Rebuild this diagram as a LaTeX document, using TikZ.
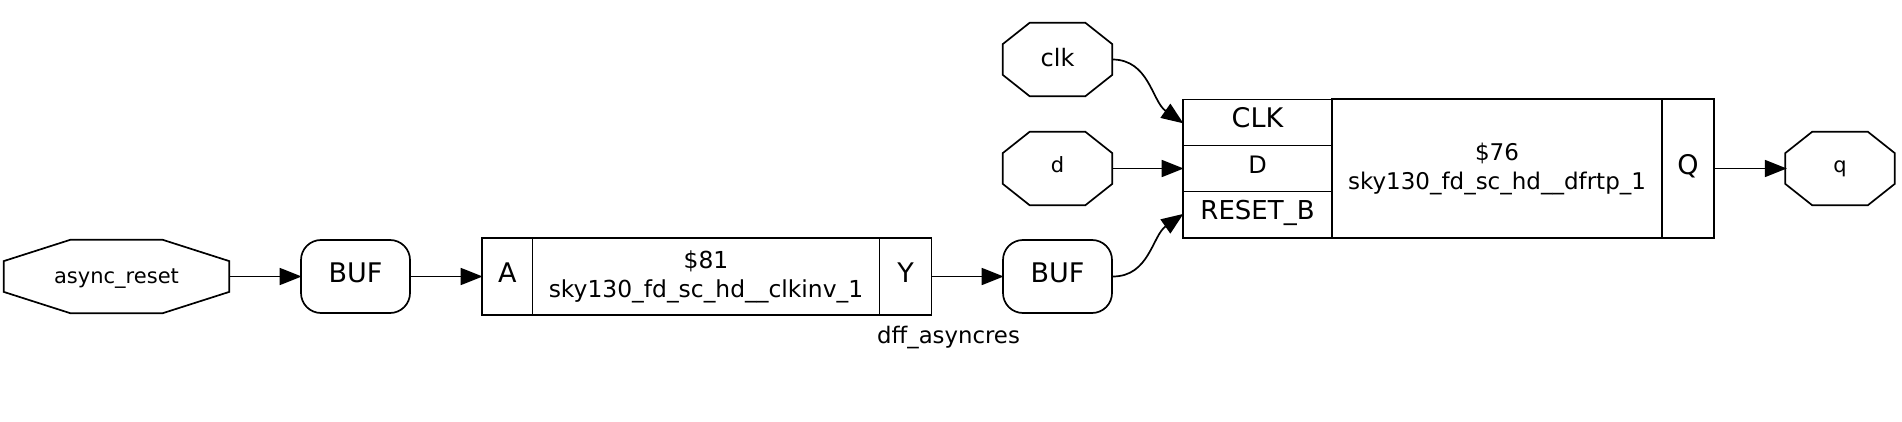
\documentclass[tikz,border=0pt]{standalone}
\usepackage{fontspec}
\setmainfont{DejaVu Sans}
\usetikzlibrary{arrows.meta,calc}
\tikzset{
    wire/.style={->, line width=1.7pt, shorten >=-1.5pt},
    port/.style={inner sep=0pt, minimum height=73pt},
    bufbox/.style={draw, line width=1.7pt, rounded corners=20pt, inner sep=0pt, minimum width=109pt, minimum height=73pt, text depth=8pt, font=\fontsize{27}{27}\selectfont},
    cell/.style={draw, line width=1.7pt, inner sep=0pt, font=\fontsize{27}{27}\selectfont},
    celltxt/.style={align=center, font=\fontsize{23.4}{29}\selectfont},
}
\begin{document}
\begin{tikzpicture}[>={Triangle[length=22pt,width=17pt]}, x=1pt, y=-1pt]
\useasboundingbox (0,0) rectangle (1902,422);

\foreach \pname/\px/\py/\pw/\ptxt/\pfs/\ph/\pd/\pc in {asyncrst/116.5/276.5/225/async\_reset/21/18/5/.295, clk/1057.5/59.5/109/clk/24/20/5/.245, d/1057.5/168.5/109/d/21/15/6/.245, q/1840/168.5/109/q/21/15/6/.245}
{
    \node[port, minimum width=\pw pt, text height=\ph pt, text depth=\pd pt, font=\fontsize{\pfs}{\pfs}\selectfont] (\pname) at (\px,\py) {\ptxt};
    \draw[line width=1.7pt] ($(\pname.north west)!\pc!(\pname.north east)$)--($(\pname.north east)!\pc!(\pname.north west)$)
        --($(\pname.north east)!.29!(\pname.south east)$)--($(\pname.south east)!.29!(\pname.north east)$)
        --($(\pname.south east)!\pc!(\pname.south west)$)--($(\pname.south west)!\pc!(\pname.south east)$)
        --($(\pname.south west)!.29!(\pname.north west)$)--($(\pname.north west)!.29!(\pname.south west)$)--cycle;
}

\node[bufbox] (bufa) at (355.5,276.5) {BUF};
\node[bufbox] (bufb) at (1057.5,276.5) {BUF};

\node[cell, minimum width=50.5pt, minimum height=77pt, text depth=8pt] (invA) at (507.25,276.5) {A};
\node[cell, minimum width=347pt, minimum height=77pt, celltxt] (invmid) at (706,276.5) {\$81\\sky130\_fd\_sc\_hd\_\_clkinv\_1};
\node[cell, minimum width=52pt, minimum height=77pt, text depth=8pt] (invY) at (905.5,276.5) {Y};

\node[cell, minimum width=149pt, minimum height=46pt, text depth=10.4pt] (ffclk) at (1257.5,122.5) {CLK};
\node[cell, minimum width=149pt, minimum height=46pt, text depth=8pt, font=\fontsize{24}{24}\selectfont] (ffd) at (1257.5,168.5) {D};
\node[cell, minimum width=149pt, minimum height=46.5pt, text depth=10.5pt, font=\fontsize{26}{26}\selectfont] (ffrst) at (1257.5,214.75) {RESET\_B};
\node[cell, minimum width=330pt, minimum height=139pt, celltxt, font=\fontsize{23}{29}\selectfont] (ffmid) at (1497,168.5) {\$76\\sky130\_fd\_sc\_hd\_\_dfrtp\_1};
\node[cell, minimum width=52pt, minimum height=139pt, text depth=7.5pt] (ffq) at (1688,168.5) {Q};

\node[font=\fontsize{22.8}{24}\selectfont] (title) at (948.5,337.5) {dff\_asyncres};

\draw[wire] (asyncrst.east)--(bufa.west);
\draw[wire] (bufa.east)--(invA.west);
\draw[wire] (invY.east)--(bufb.west);
\draw[wire] (d.east)--(ffd.west);
\draw[wire] (ffq.east)--(q.west);
\draw[wire] (clk.east) to[out=0, in=145] (ffclk.west);
\draw[wire] (bufb.east) to[out=0, in=215] (ffrst.west);
\end{tikzpicture}
\end{document}
